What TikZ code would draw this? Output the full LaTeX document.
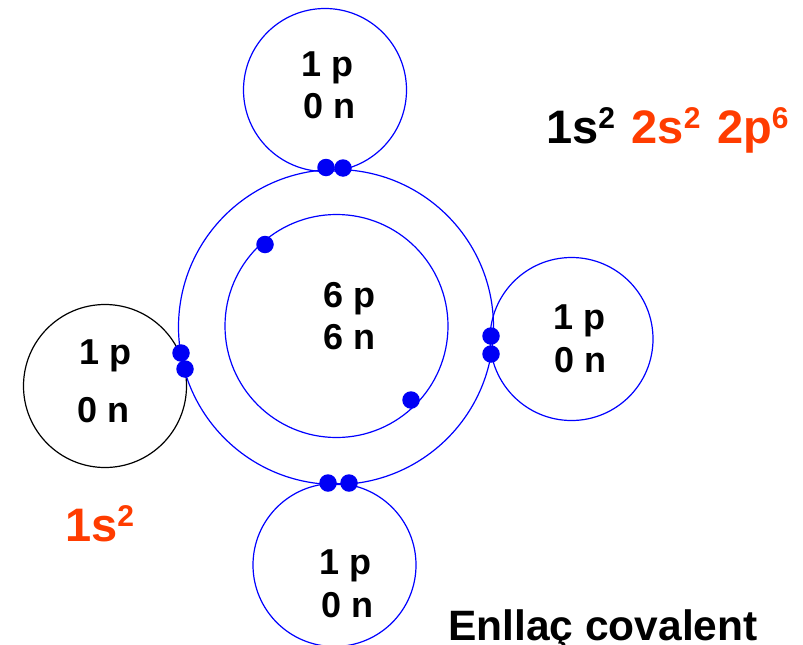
\documentclass[tikz,border=0pt]{standalone}
\usepackage{fontspec}
\setmainfont{Liberation Sans}
\definecolor{orb}{RGB}{0,0,255}
\definecolor{dotb}{RGB}{0,0,245}
\definecolor{redo}{RGB}{255,60,0}
\newcommand{\sq}[1]{\raisebox{15pt}{\fontsize{30}{31}\selectfont #1}}
\newcommand{\gp}{\hspace{16.5pt}}
\tikzset{
 orbit/.style={circle,draw=orb,line width=1.2pt,inner sep=0pt},
 blackorbit/.style={circle,draw=black,line width=1.2pt,inner sep=0pt},
 elec/.style={circle,fill=dotb,inner sep=0pt,minimum size=17.5pt},
 lab/.style={font=\bfseries\fontsize{36}{38}\selectfont,inner sep=0pt,anchor=base west},
 big/.style={inner sep=0pt,anchor=base west}
}
\begin{document}
\begin{tikzpicture}[x=1pt,y=-1pt]
\useasboundingbox (0,0) rectangle (803,645);
\node[orbit,minimum size=163pt] (top) at (325,90) {};
\node[orbit,minimum size=163pt] (right) at (571.5,339) {};
\node[orbit,minimum size=163pt] (bottom) at (334.5,565) {};
\node[blackorbit,minimum size=163pt] (left) at (105,386) {};
\node[orbit,minimum size=315pt] (outer) at (336,327) {};
\node[orbit,minimum size=223pt] (inner) at (336.5,326) {};
\node[lab] at (301,76) {1 p};
\node[lab] at (303,118) {0 n};
\node[lab] at (323,307.7) {6 p};
\node[lab] at (323,349) {6 n};
\node[lab] at (553,329) {1 p};
\node[lab] at (554.5,372) {0 n};
\node[lab] at (79,364) {1 p};
\node[lab] at (77.5,422) {0 n};
\node[lab] at (319,574) {1 p};
\node[lab] at (321.5,617) {0 n};
\node[elec] (e1) at (326,167.5) {};
\node[elec] (e2) at (343,168) {};
\node[elec] (e3) at (265,244.5) {};
\node[elec] (e4) at (411,400) {};
\node[elec] (e5) at (491,336) {};
\node[elec] (e6) at (491,354) {};
\node[elec] (e7) at (181,353) {};
\node[elec] (e8) at (185,369) {};
\node[elec] (e9) at (328,483) {};
\node[elec] (e10) at (349,483) {};
\node[big,font=\bfseries\fontsize{47}{49}\selectfont] at (546,143.5) {1s\sq{2}\gp\textcolor{redo}{2s\sq{2}\gp 2p\sq{6}}};
\node[big,font=\bfseries\fontsize{47}{49}\selectfont,text=redo] at (65,541) {1s\sq{2}};
\node[big,font=\bfseries\fontsize{42.5}{44}\selectfont] at (448,640) {Enllaç covalent};
\end{tikzpicture}
\end{document}
